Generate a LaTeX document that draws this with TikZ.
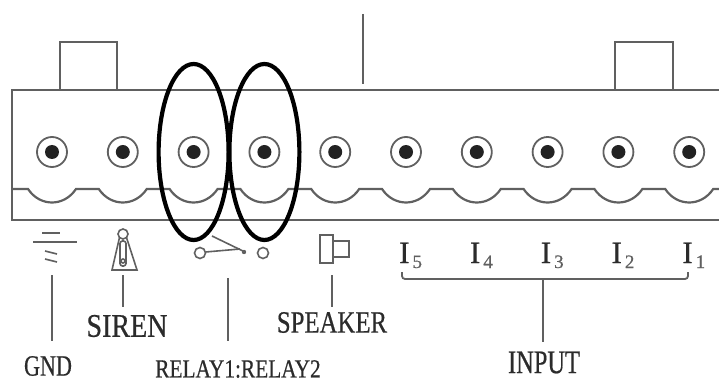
\documentclass[tikz,border=0pt]{standalone}
\usepackage{fontspec}
\setmainfont[FakeBold=0.6]{Liberation Serif}
\usetikzlibrary{positioning, calc}
\definecolor{boardline}{HTML}{606060}
\definecolor{pindot}{HTML}{222222}
\definecolor{labeltext}{HTML}{2b2b2b}

\begin{document}
\begin{tikzpicture}[x=1pt, y=-1pt, every node/.style={inner sep=0pt, text=labeltext}]
\tikzstyle{bd}=[draw=boardline, line width=2.2pt]
\tikzstyle{pin}=[circle, draw=boardline, line width=1.8pt, minimum size=30pt, fill=white]
\tikzstyle{lead}=[draw=boardline, line width=1.8pt]
\tikzstyle{sym}=[draw=boardline, line width=1.6pt]
\tikzstyle{loop}=[draw=black, line width=4.2pt]

\useasboundingbox (0,0) rectangle (719,382);
\clip (0,0) rectangle (719,382);

% housing
\draw[bd] (60,90) rectangle (117,42);
\draw[bd] (615,90) rectangle (673,42);
\draw[bd] (363,14) -- (363,84);
\draw[bd] (730,90) -- (12,90) -- (12,220) -- (730,220);
\draw[bd] (12,189) foreach \i in {0,...,9} {
  -- ({52+70.8*\i-24},189) .. controls ({52+70.8*\i-12},207) and ({52+70.8*\i+12},207) .. ({52+70.8*\i+24},189)
} -- (730,189);

% terminals
\foreach \i in {1,...,10} \node[pin] (p\i) at ({52+70.8*(\i-1)},152) {};
\foreach \i in {1,...,10} \fill[pindot] (p\i) circle (7);

% marked relay terminals
\draw[loop] (p3) ellipse [x radius=35, y radius=88];
\draw[loop] (p4) ellipse [x radius=35, y radius=88];

% GND
\draw[sym] (42,233) -- (60,233);
\draw[sym] (33,242) -- (77,242);
\draw[sym] (45,251) -- (57,254);
\draw[sym] (45,259) -- (57,262);
\coordinate (gndtip) at (52,275);
\node[font=\fontsize{29.5}{30}\selectfont] (gnd) at (48,366) {\scalebox{0.75}[1]{GND}};
\draw[lead, shorten >=15pt] (gndtip) -- (gndtip |- gnd.north);

% siren
\draw[sym] (123,234) circle (5);
\draw[sym] (119.5,237.5) -- (112,270) -- (137,270) -- (126.5,237.5);
\draw[sym, rounded corners=2.5pt] (120,241) rectangle (126,266);
\draw[sym] (123,261) circle (2);
\coordinate (sirentip) at (123,275);
\node[font=\fontsize{33}{33}\selectfont] (siren) at (127,326) {\scalebox{0.85}[1]{SIREN}};
\draw[lead, shorten >=8pt] (sirentip) -- (sirentip |- siren.north);

% relay contact
\draw[sym] (200,253) circle (5.5);
\draw[sym] (263,253) circle (5.5);
\draw[sym] (205.5,252) -- (240,249);
\draw[sym] (212,236) -- (245,252);
\fill[boardline] (244,252) circle (2.2);
\coordinate (relaytip) at (228,278);
\node[font=\fontsize{26}{26}\selectfont] (relay) at (238,369) {\scalebox{0.82}[1]{RELAY1:RELAY2}};
\draw[lead, shorten >=19pt] (relaytip) -- (relaytip |- relay.north);

% speaker
\draw[sym] (320,235) rectangle (333,263);
\draw[sym] (333,241) rectangle (349,257);
\coordinate (speakertip) at (332,275);
\node[font=\fontsize{31}{31}\selectfont] (speaker) at (332,322.5) {\scalebox{0.8}[1]{SPEAKER}};
\draw[lead, shorten >=5pt] (speakertip) -- (speakertip |- speaker.north);

% inputs
\foreach \n/\k in {5/6, 4/7, 3/8, 2/9, 1/10}
  \node[anchor=base west, font=\fontsize{31}{31}\selectfont] (in\n) at ($(p\k)+(-7,111)$)
    {I\kern3pt\raisebox{-5pt}{\fontsize{19}{19}\selectfont\color{boardline}\n}};
\draw[lead, rounded corners=3pt] (402,272) -- (402,279) -- (688,279) -- (688,272);
\coordinate (inputtip) at (543,279);
\node[font=\fontsize{33}{33}\selectfont] (input) at (544,362.5) {\scalebox{0.74}[1]{INPUT}};
\draw[lead, shorten >=9pt] (inputtip) -- (inputtip |- input.north);
\end{tikzpicture}
\end{document}
